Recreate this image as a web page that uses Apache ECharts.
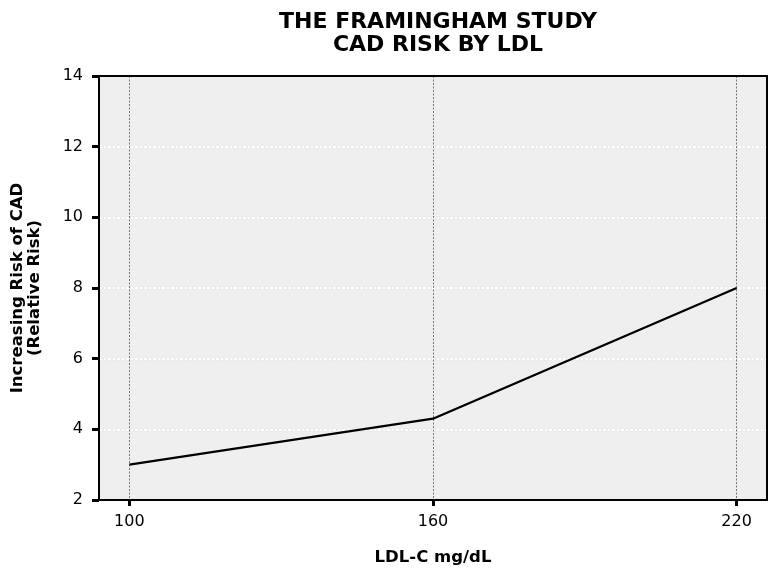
<!DOCTYPE html>
<html>
<head>
<meta charset="utf-8">
<script src="https://cdn.jsdelivr.net/npm/echarts@6/dist/echarts.min.js"></script>
<style>
  html, body { margin: 0; padding: 0; background: #fff; }
  #chart { width: 777px; height: 577px; }
</style>
</head>
<body>
<div id="chart"></div>
<script>
/* ---- data ---- */
const ldlValues = [100, 160, 220];
const relativeRisk = [3, 4.3, 8];
const xTicks = [100, 160, 220];

const FONT = 'DejaVu Sans';
const chart = echarts.init(document.getElementById('chart'));

const points = ldlValues.map((x, i) => [x, relativeRisk[i]]);

chart.setOption({
  backgroundColor: '#fff',
  animation: false,
  title: {
    text: 'THE FRAMINGHAM STUDY\nCAD RISK BY LDL',
    left: 433,
    top: 6,
    textAlign: 'center',
    textStyle: { fontFamily: FONT, fontWeight: 'bold', fontSize: 22, lineHeight: 23, color: '#000' }
  },
  grid: {
    left: 99, right: 10, top: 76, bottom: 77,
    show: true, backgroundColor: '#efefef', borderWidth: 0
  },
  xAxis: [{
    type: 'value',
    min: 94, max: 226,
    name: 'LDL-C mg/dL',
    nameLocation: 'middle',
    nameGap: 49,
    nameTextStyle: { fontFamily: FONT, fontWeight: 'bold', fontSize: 16.5, color: '#000' },
    axisLine: { lineStyle: { color: '#000', width: 2 } },
    axisTick: { customValues: xTicks, length: 6, lineStyle: { color: '#000', width: 3 } },
    axisLabel: { customValues: xTicks, margin: 14, fontFamily: FONT, fontSize: 16, color: '#000' },
    splitLine: { show: true, lineStyle: { color: '#444', width: 0.7, type: [2, 1.5] } }
  }, {
    type: 'value',
    position: 'top',
    min: 94, max: 226,
    axisLine: { show: true, lineStyle: { color: '#000', width: 2 } },
    axisTick: { show: false },
    axisLabel: { show: false },
    splitLine: { show: false }
  }],
  yAxis: [{
    type: 'value',
    min: 2, max: 14, interval: 2,
    name: 'Increasing Risk of CAD\n(Relative Risk)',
    nameLocation: 'middle',
    nameRotate: 90,
    nameGap: 56,
    nameTextStyle: { fontFamily: FONT, fontWeight: 'bold', fontSize: 16.5, lineHeight: 17, color: '#000' },
    axisLine: { show: true, lineStyle: { color: '#000', width: 2 } },
    axisTick: { show: true, length: 7, lineStyle: { color: '#000', width: 3 } },
    axisLabel: { margin: 16, fontFamily: FONT, fontSize: 16, color: '#000' },
    splitLine: { show: true, lineStyle: { color: '#ffffff', width: 2, type: [3, 1.5], shadowColor: 'rgba(0,0,0,0.2)', shadowBlur: 1 } }
  }, {
    type: 'value',
    position: 'right',
    min: 2, max: 14,
    axisLine: { show: true, lineStyle: { color: '#000', width: 2 } },
    axisTick: { show: false },
    axisLabel: { show: false },
    splitLine: { show: false }
  }],
  series: [{
    type: 'line',
    data: points,
    symbol: 'none',
    lineStyle: { color: '#000', width: 2.3 },
    z: 5
  }]
});
</script>
</body>
</html>
